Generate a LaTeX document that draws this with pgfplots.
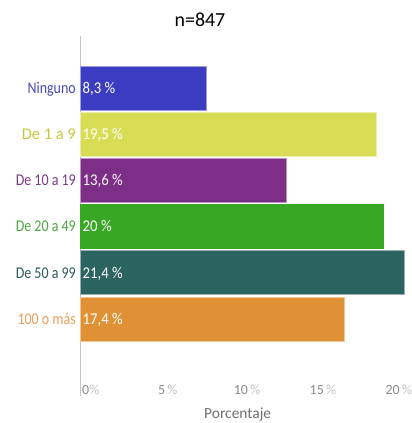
\documentclass[border=0pt]{standalone}
\usepackage{pgfplots}
\pgfplotsset{compat=1.18}
\usepackage{fontspec}
\setmainfont{Carlito}
\newfontfamily\catfont[FakeStretch=0.85]{Carlito}
\newfontfamily\valfont[FakeStretch=0.9]{Carlito}
\definecolor{cNin}{HTML}{3C3CC3}
\definecolor{cD1}{HTML}{D8DD55}
\definecolor{cD10}{HTML}{7D2E86}
\definecolor{cD20}{HTML}{38A723}
\definecolor{cD50}{HTML}{2B6361}
\definecolor{c100}{HTML}{E09135}
\definecolor{lNin}{HTML}{4A4AB8}
\definecolor{lD1}{HTML}{C5C83A}
\definecolor{lD10}{HTML}{7A3A82}
\definecolor{lD20}{HTML}{4FA445}
\definecolor{lD50}{HTML}{2F5B5B}
\definecolor{l100}{HTML}{E8A05A}
\definecolor{axisgray}{HTML}{C4C4C4}
\definecolor{numgray}{HTML}{8A8A8A}
\definecolor{pctgray}{HTML}{C2C2C2}
\definecolor{labgray}{HTML}{707070}
\begin{document}
\begin{tikzpicture}
\useasboundingbox (-80bp,-27bp) rectangle (332bp,396bp);
\begin{axis}[
  at={(0,0)}, anchor=south west,
  scale only axis, width=330.7bp, height=360bp,
  xmin=0, xmax=21.8, ymin=-1.67, ymax=6.13,
  axis lines=left, axis line style={-},
  x axis line style={draw=none},
  y axis line style={draw=axisgray, line width=1bp},
  major tick length=0pt,
  xtick={0,5,10,15,20},
  xticklabels={
    {\textcolor{numgray}{0}\textcolor{pctgray}{\%}},
    {\textcolor{numgray}{5}\,\textcolor{pctgray}{\%}},
    {\textcolor{numgray}{10}\,\textcolor{pctgray}{\%}},
    {\textcolor{numgray}{15}\,\textcolor{pctgray}{\%}},
    {\textcolor{numgray}{20}\,\textcolor{pctgray}{\%}}},
  xticklabel style={anchor=base west, inner sep=0pt, xshift=2bp, yshift=1.5bp, font=\fontsize{14}{16}\selectfont},
  ytick={0,1,2,3,4,5},
  yticklabels={
    {\textcolor{l100}{100 o más}},
    {\textcolor{lD50}{De 50 a 99}},
    {\textcolor{lD20}{De 20 a 49}},
    {\textcolor{lD10}{De 10 a 19}},
    {\textcolor{lD1}{\setmainfont{Carlito}\fontsize{16.5}{18}\selectfont De 1 a 9}},
    {\textcolor{lNin}{Ninguno}}},
  yticklabel style={anchor=base east, inner sep=0pt, xshift=-4bp, yshift=-5.3bp, font=\catfont\fontsize{16.5}{18}\selectfont},
  clip=false,
]
\addplot[xbar, bar shift=0pt, bar width=44bp, fill=cNin, draw=cNin!50!white, line width=0.6bp] coordinates {(8.3,5)};
\addplot[xbar, bar shift=0pt, bar width=44bp, fill=cD1, draw=cD1!50!white, line width=0.6bp] coordinates {(19.5,4)};
\addplot[xbar, bar shift=0pt, bar width=44bp, fill=cD10, draw=cD10!50!white, line width=0.6bp] coordinates {(13.6,3)};
\addplot[xbar, bar shift=0pt, bar width=44bp, fill=cD20, draw=cD20, line width=0.6bp] coordinates {(20,2)};
\addplot[xbar, bar shift=0pt, bar width=44bp, fill=cD50, draw=cD50!50!white, line width=0.6bp] coordinates {(21.4,1)};
\addplot[xbar, bar shift=0pt, bar width=44bp, fill=c100, draw=c100!50!white, line width=0.6bp] coordinates {(17.4,0)};
\addplot[draw=none, mark=none, nodes near coords, point meta=explicit symbolic,
  nodes near coords style={anchor=base west, inner sep=0pt, xshift=2.5bp, yshift=-5.3bp, text=white, font=\valfont\fontsize{16.5}{18}\selectfont}]
  coordinates {(0,5) [{8,3 \%}] (0,4) [{19,5 \%}] (0,3) [{13,6 \%}] (0,2) [{20 \%}] (0,1) [{21,4 \%}] (0,0) [{17,4 \%}]};
\end{axis}
\node[font=\fontsize{20}{24}\selectfont] at (120bp,376bp) {n=847};
\node[anchor=base, text=labgray, font=\fontsize{15.5}{18}\selectfont] at (157.7bp,-22.5bp) {Porcentaje};
\end{tikzpicture}
\end{document}
